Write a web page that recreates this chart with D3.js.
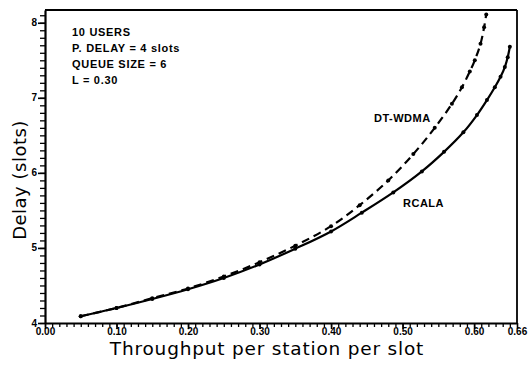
<!DOCTYPE html>
<html>
<head>
<meta charset="utf-8">
<script src="https://cdn.jsdelivr.net/npm/d3@7"></script>
<style>
  html, body { margin: 0; padding: 0; background: #fff; }
  svg { display: block; }
</style>
</head>
<body>
<svg id="chart" width="532" height="366"></svg>
<script>
// Throughput vs. delay for the two access protocols
const rcalaX = [0.05, 0.10, 0.15, 0.20, 0.25, 0.30, 0.35, 0.40, 0.443, 0.487, 0.527, 0.558, 0.585, 0.604, 0.618, 0.629, 0.637, 0.643, 0.647, 0.650];
const rcalaY = [4.09, 4.20, 4.32, 4.45, 4.60, 4.78, 4.99, 5.22, 5.47, 5.74, 6.02, 6.28, 6.54, 6.77, 6.97, 7.14, 7.28, 7.41, 7.54, 7.68];

const dtwdmaX = [0.05, 0.10, 0.15, 0.20, 0.25, 0.30, 0.35, 0.40, 0.44, 0.48, 0.515, 0.545, 0.569, 0.583, 0.594, 0.601, 0.609, 0.614, 0.617];
const dtwdmaY = [4.09, 4.20, 4.33, 4.46, 4.62, 4.81, 5.03, 5.29, 5.57, 5.90, 6.25, 6.60, 6.92, 7.14, 7.35, 7.50, 7.72, 7.94, 8.11];

const xTickValues = [0.00, 0.10, 0.20, 0.30, 0.40, 0.50, 0.60, 0.66];
const xTickLabels = ["0.00", "0.10", "0.20", "0.30", "0.40", "0.50", "0.60", "0.66"];
const yTickValues = [4, 5, 6, 7, 8];
const yTickLabels = ["4", "5", "6", "7", "8"];

const notes = ["10 USERS", "P. DELAY = 4 slots", "QUEUE SIZE = 6", "L = 0.30"];

const svg = d3.select("#chart");
const plotLeft = 45, plotRight = 517, plotTop = 10, plotBottom = 323;

const x = d3.scaleLinear().domain([0, 0.66]).range([plotLeft, plotRight]);
const y = d3.scaleLinear().domain([4, 8.17]).range([plotBottom, plotTop]);

// frame: top and right edges
svg.append("line").attr("x1", plotLeft).attr("x2", plotRight).attr("y1", plotTop).attr("y2", plotTop)
  .attr("stroke", "#000").attr("stroke-width", 1.8);
svg.append("line").attr("x1", plotRight).attr("x2", plotRight).attr("y1", plotTop).attr("y2", plotBottom)
  .attr("stroke", "#000").attr("stroke-width", 1.8);

// minor ticks every 0.01 (x) and 0.1 (y)
const xMinor = d3.range(0, 66).map(i => i / 100);
const yMinor = d3.range(40, 82).map(i => i / 10);

const xAxisMinor = d3.axisBottom(x).tickValues(xMinor).tickSize(4).tickFormat("");
const yAxisMinor = d3.axisLeft(y).tickValues(yMinor).tickSize(5).tickFormat("");

const gxm = svg.append("g").attr("transform", `translate(0,${plotBottom})`).call(xAxisMinor);
const gym = svg.append("g").attr("transform", `translate(${plotLeft},0)`).call(yAxisMinor);
[gxm, gym].forEach(g => {
  g.select(".domain").remove();
  g.selectAll("line").attr("stroke", "#000").attr("stroke-width", 1.3);
});

// major axes with labels
const xAxis = d3.axisBottom(x).tickValues(xTickValues).tickSize(6)
  .tickFormat((d, i) => xTickLabels[i]).tickSizeOuter(0);
const yAxis = d3.axisLeft(y).tickValues(yTickValues).tickSize(7)
  .tickFormat((d, i) => yTickLabels[i]).tickSizeOuter(0);

const gx = svg.append("g").attr("transform", `translate(0,${plotBottom})`).call(xAxis);
const gy = svg.append("g").attr("transform", `translate(${plotLeft},0)`).call(yAxis);
[gx, gy].forEach(g => {
  g.select(".domain").attr("stroke", "#000").attr("stroke-width", 2.2);
  g.selectAll("line").attr("stroke", "#000").attr("stroke-width", 1.6);
  g.selectAll("text").attr("fill", "#000")
    .style("font-family", "'Liberation Sans', Arial, sans-serif")
    .style("font-weight", "bold").style("font-size", "10px");
});
gx.selectAll("text").attr("y", 12).attr("dy", 0);
gy.selectAll("text").attr("x", -8).attr("dy", "0.3em");

// axis titles
svg.append("text").attr("x", 267).attr("y", 355).attr("text-anchor", "middle")
  .style("font-family", "'DejaVu Sans', sans-serif").style("font-size", "18.5px")
  .style("letter-spacing", "0.8px")
  .attr("fill", "#000").text("Throughput per station per slot");
svg.append("text").attr("transform", "translate(26,180) rotate(-90)").attr("text-anchor", "middle")
  .style("font-family", "'DejaVu Sans', sans-serif").style("font-size", "18px")
  .style("letter-spacing", "0.5px")
  .attr("fill", "#000").text("Delay  (slots)");

// curves
const line = d3.line().x(d => x(d[0])).y(d => y(d[1])).curve(d3.curveCatmullRom.alpha(0.5));
const rcala = rcalaX.map((v, i) => [v, rcalaY[i]]);
const dtwdma = dtwdmaX.map((v, i) => [v, dtwdmaY[i]]);

svg.append("path").datum(dtwdma).attr("d", line).attr("fill", "none")
  .attr("stroke", "#000").attr("stroke-width", 2.2).attr("stroke-dasharray", "8,5");
svg.append("path").datum(rcala).attr("d", line).attr("fill", "none")
  .attr("stroke", "#000").attr("stroke-width", 2.2);

svg.append("g").selectAll("circle").data(dtwdma).join("circle")
  .attr("cx", d => x(d[0])).attr("cy", d => y(d[1])).attr("r", 2).attr("fill", "#000");
svg.append("g").selectAll("circle").data(rcala).join("circle")
  .attr("cx", d => x(d[0])).attr("cy", d => y(d[1])).attr("r", 2).attr("fill", "#000");

// curve labels and parameter notes
const labelStyle = sel => sel.style("font-family", "'Liberation Sans', Arial, sans-serif")
  .style("font-weight", "bold").style("font-size", "11px").style("letter-spacing", "0.5px")
  .attr("fill", "#000");
svg.append("text").attr("x", 374).attr("y", 122).text("DT-WDMA").call(labelStyle);
svg.append("text").attr("x", 403).attr("y", 207).text("RCALA").call(labelStyle);

svg.append("g").selectAll("text").data(notes).join("text")
  .attr("x", 72).attr("y", (d, i) => 36 + i * 16).text(d => d).call(labelStyle)
  .style("letter-spacing", "0.7px");
</script>
</body>
</html>
